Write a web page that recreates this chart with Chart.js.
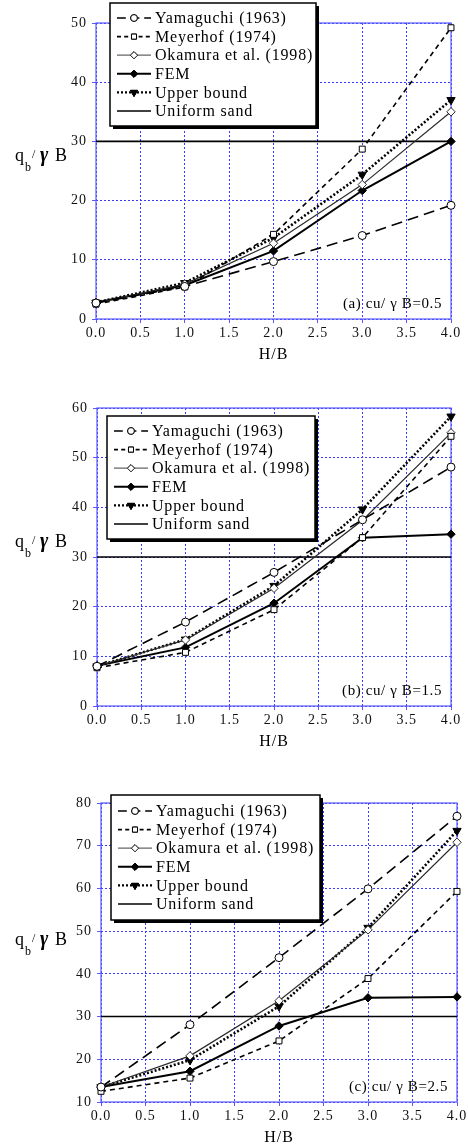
<!DOCTYPE html>
<html>
<head>
<meta charset="utf-8">
<script src="https://cdn.jsdelivr.net/npm/chart.js@4.4.1/dist/chart.umd.min.js"></script>
<style>
  html, body { margin: 0; padding: 0; background: #fff; }
  .panel { position: absolute; left: 0; width: 468px; }
</style>
</head>
<body>
<div class="panel" style="top:0;height:380px"><canvas id="chartA"></canvas></div>
<div class="panel" style="top:380px;height:380px"><canvas id="chartB"></canvas></div>
<div class="panel" style="top:760px;height:387px"><canvas id="chartC"></canvas></div>
<script>
// H/B values shared by all three panels
const hb = [0, 1, 2, 3, 4];
const seriesNames = ['Yamaguchi (1963)', 'Meyerhof (1974)', 'Okamura et al. (1998)', 'FEM', 'Upper bound', 'Uniform sand'];

// (a) cu/γB = 0.5
const yamaA = [2.7, 5.5, 9.7, 14.1, 19.2];
const meyA  = [2.5, 5.4, 14.3, 28.7, 49.2];
const okaA  = [2.7, 5.9, 12.8, 22.7, 35.0];
const femA  = [2.8, 5.7, 11.5, 21.7, 30.0];
const ubA   = [2.8, 6.1, 13.7, 24.4, 37.0];
const sandA = [30, 30, 30, 30, 30];

// (b) cu/γB = 1.5
const yamaB = [8.0, 16.9, 26.9, 37.5, 48.1];
const meyB  = [7.7, 10.8, 19.4, 33.9, 54.3];
const okaB  = [8.0, 13.3, 23.7, 37.4, 55.0];
const femB  = [8.1, 11.8, 20.7, 33.9, 34.6];
const ubB   = [8.0, 13.4, 24.2, 39.6, 58.3];
const sandB = [30, 30, 30, 30, 30];

// (c) cu/γB = 2.5
const yamaC = [13.5, 28.1, 43.8, 59.9, 76.9];
const meyC  = [12.5, 15.6, 24.3, 38.9, 59.3];
const okaC  = [13.5, 20.8, 33.7, 50.3, 70.8];
const femC  = [13.5, 17.2, 27.8, 34.4, 34.6];
const ubC   = [13.5, 19.8, 32.4, 50.8, 73.5];
const sandC = [30, 30, 30, 30, 30];

const SERIF = '"Liberation Serif", "DejaVu Serif", serif';
const GRID_BLUE = '#3b3bff';
const FRAME_BLUE = '#5a5aff';

// line / marker look for each series, same order as seriesNames
const styles = [
  { dash: [11, 6], width: 1.6, color: '#000', point: 'circle', fill: '#fff', radius: 4, rot: 0 },
  { dash: [5, 4], width: 1.6, color: '#000', point: 'rect', fill: '#fff', radius: 4.2, rot: 0 },
  { dash: [], width: 1.2, color: '#2a2a2a', point: 'rectRot', fill: '#fff', radius: 4.2, rot: 0 },
  { dash: [], width: 2.0, color: '#000', point: 'rectRot', fill: '#000', radius: 4.2, rot: 0 },
  { dash: [2, 2], width: 2.6, color: '#000', point: 'triangle', fill: '#000', radius: 4.8, rot: 180 },
  { dash: [], width: 1.6, color: '#000', point: false, fill: '#000', radius: 0, rot: 0 }
];

function toPoints(vals) {
  return hb.map((h, i) => ({ x: h, y: vals[i] }));
}

function drawMarker(ctx, s, x, y) {
  if (!s.point) return;
  ctx.save();
  ctx.setLineDash([]);
  ctx.lineWidth = 1;
  ctx.strokeStyle = s.color;
  ctx.fillStyle = s.fill;
  Chart.helpers.drawPoint(ctx, { pointStyle: s.point, radius: s.radius, rotation: s.rot, borderWidth: 1 }, x, y);
  ctx.fill();
  ctx.stroke();
  ctx.restore();
}

function makePanel(id, series, yMin, yMax, box, title) {
  const canvas = document.getElementById(id);
  const datasets = series.map((vals, i) => {
    const s = styles[i];
    return {
      label: seriesNames[i],
      data: toPoints(vals),
      borderColor: s.color,
      borderWidth: s.width,
      borderDash: s.dash,
      pointStyle: s.point,
      pointRadius: s.radius,
      pointRotation: s.rot,
      pointBackgroundColor: s.fill,
      pointBorderColor: s.color,
      pointBorderWidth: 1,
      tension: 0,
      clip: false
    };
  });

  const extras = {
    id: 'extras',
    beforeDraw(chart) {
      chart.ctx.letterSpacing = '1px';
    },
    beforeDatasetsDraw(chart) {
      const { ctx, chartArea: a } = chart;
      ctx.save();
      ctx.strokeStyle = FRAME_BLUE;
      ctx.lineWidth = 1.2;
      ctx.strokeRect(a.left, a.top, a.right - a.left, a.bottom - a.top);
      ctx.restore();
    },
    afterDraw(chart) {
      const { ctx, chartArea: a } = chart;
      ctx.save();
      ctx.fillStyle = '#000';
      ctx.textBaseline = 'alphabetic';

      // panel note, bottom right
      ctx.letterSpacing = '0.6px';
      ctx.font = '15px ' + SERIF;
      ctx.textAlign = 'right';
      ctx.fillText(title.note, a.right - 9, a.bottom - 11);

      // x title
      ctx.letterSpacing = '1px';
      ctx.font = '16px ' + SERIF;
      ctx.textAlign = 'center';
      ctx.fillText('H/B', (a.left + a.right) / 2, a.bottom + 40);

      // y title: q_b / γ B
      ctx.textAlign = 'left';
      ctx.letterSpacing = '0px';
      const yb = title.yBase;
      ctx.font = '18px ' + SERIF;
      ctx.fillText('q', 15, yb);
      ctx.font = '12px ' + SERIF;
      ctx.fillText('b', 25, yb + 10);
      ctx.fillText('/', 32, yb - 3);
      ctx.font = 'italic bold 20px ' + SERIF;
      ctx.fillText('γ', 40, yb);
      ctx.font = '18px ' + SERIF;
      ctx.fillText('B', 55, yb);

      // legend box with shadow
      ctx.fillStyle = '#000';
      ctx.fillRect(box.x + 3, box.y + 3, box.w, box.h);
      ctx.fillStyle = '#fff';
      ctx.fillRect(box.x, box.y, box.w, box.h);
      ctx.strokeStyle = '#000';
      ctx.lineWidth = 1.5;
      ctx.strokeRect(box.x, box.y, box.w, box.h);

      ctx.font = '16px ' + SERIF;
      ctx.letterSpacing = '0.8px';
      ctx.textBaseline = 'middle';
      seriesNames.forEach((name, i) => {
        const s = styles[i];
        const ry = box.y + box.row0 + i * 18.6;
        const x1 = box.x + 7, x2 = box.x + 41;
        ctx.save();
        ctx.strokeStyle = i === 2 ? '#666' : s.color;
        ctx.lineWidth = Math.min(s.width, 2.2);
        ctx.setLineDash(s.dash.map(d => Math.max(d * 0.8, 2)));
        ctx.beginPath();
        ctx.moveTo(x1, ry);
        ctx.lineTo(x2, ry);
        ctx.stroke();
        ctx.restore();
        drawMarker(ctx, { ...s, radius: s.radius * 0.85 }, (x1 + x2) / 2, ry);
        ctx.fillStyle = '#000';
        ctx.fillText(name, box.x + 45, ry + 1);
      });
      ctx.restore();
    }
  };

  new Chart(canvas, {
    type: 'line',
    data: { datasets },
    plugins: [extras],
    options: {
      responsive: true,
      maintainAspectRatio: false,
      animation: false,
      layout: { padding: { left: 0, top: title.top, right: title.right, bottom: 0 } },
      plugins: { legend: { display: false }, tooltip: { enabled: false } },
      elements: { line: { borderCapStyle: 'butt' } },
      scales: {
        x: {
          type: 'linear',
          min: 0,
          max: 4,
          afterFit(scale) { scale.height = title.xh; },
          ticks: {
            stepSize: 0.5,
            padding: 2,
            color: '#111',
            font: { family: SERIF, size: 14 },
            callback: v => v.toFixed(1),
            maxRotation: 0
          },
          grid: { color: GRID_BLUE, lineWidth: 1, tickLength: 4, tickColor: FRAME_BLUE },
          border: { display: false, dash: [2, 2] }
        },
        y: {
          min: yMin,
          max: yMax,
          afterFit(scale) { scale.width = title.left; },
          ticks: {
            stepSize: 10,
            padding: 5,
            color: '#111',
            font: { family: SERIF, size: 14 }
          },
          grid: { color: GRID_BLUE, lineWidth: 1, tickLength: 4, tickColor: FRAME_BLUE },
          border: { display: false, dash: [2, 2] }
        }
      }
    }
  });
}

makePanel('chartA', [yamaA, meyA, okaA, femA, ubA, sandA], 0, 50,
  { x: 110, y: 3, w: 206, h: 123, row0: 15 },
  { note: '(a) cu/ γ B=0.5', yBase: 161, top: 23, right: 17, left: 96, xh: 61 });
makePanel('chartB', [yamaB, meyB, okaB, femB, ubB, sandB], 0, 60,
  { x: 107, y: 36, w: 208, h: 123, row0: 15 },
  { note: '(b) cu/ γ B=1.5', yBase: 167, top: 28, right: 17, left: 97, xh: 54 });
makePanel('chartC', [yamaC, meyC, okaC, femC, ubC, sandC], 10, 80,
  { x: 111, y: 35, w: 209, h: 125, row0: 16 },
  { note: '(c) cu/ γ B=2.5', yBase: 185, top: 43, right: 11, left: 101, xh: 45 });
</script>
</body>
</html>
